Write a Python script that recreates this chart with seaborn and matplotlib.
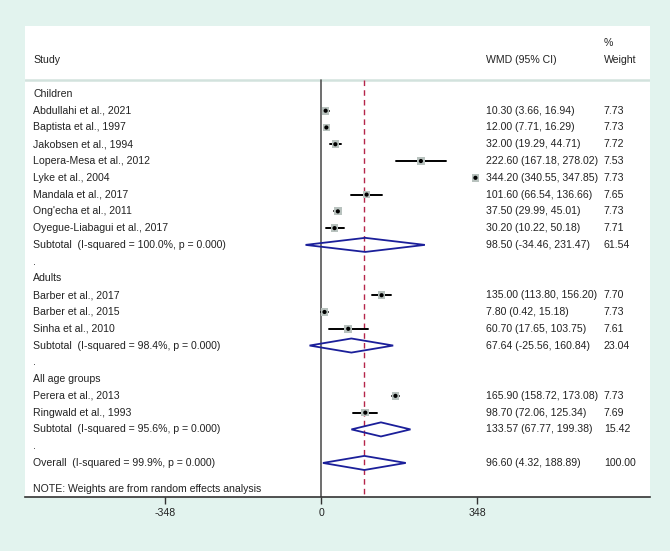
import pandas as pd
import matplotlib.pyplot as plt
import seaborn as sns
import numpy as np
from matplotlib.patches import Polygon

sns.set_theme(style="white")
plt.rcParams['font.family'] = ['Liberation Sans', 'DejaVu Sans']

#Study level data
groups = ['Children', 'Adults', 'All age groups']
group_of_study = ['Children'] * 8 + ['Adults'] * 3 + ['All age groups'] * 2
studies = ['Abdullahi et al., 2021', 'Baptista et al., 1997', 'Jakobsen et al., 1994',
           'Lopera-Mesa et al., 2012', 'Lyke et al., 2004', 'Mandala et al., 2017',
           "Ong'echa et al., 2011", 'Oyegue-Liabagui et al., 2017',
           'Barber et al., 2017', 'Barber et al., 2015', 'Sinha et al., 2010',
           'Perera et al., 2013', 'Ringwald et al., 1993']
wmd = [10.30, 12.00, 32.00, 222.60, 344.20, 101.60, 37.50, 30.20,
       135.00, 7.80, 60.70, 165.90, 98.70]
ci_low = [3.66, 7.71, 19.29, 167.18, 340.55, 66.54, 29.99, 10.22,
          113.80, 0.42, 17.65, 158.72, 72.06]
ci_high = [16.94, 16.29, 44.71, 278.02, 347.85, 136.66, 45.01, 50.18,
           156.20, 15.18, 103.75, 173.08, 125.34]
weights = [7.73, 7.73, 7.72, 7.53, 7.73, 7.65, 7.73, 7.71,
           7.70, 7.73, 7.61, 7.73, 7.69]

#Subtotals and overall
sub_labels = ['Subtotal  (I-squared = 100.0%, p = 0.000)',
              'Subtotal  (I-squared = 98.4%, p = 0.000)',
              'Subtotal  (I-squared = 95.6%, p = 0.000)']
sub_wmd = [98.50, 67.64, 133.57]
sub_low = [-34.46, -25.56, 67.77]
sub_high = [231.47, 160.84, 199.38]
sub_weight = [61.54, 23.04, 15.42]
overall_label = 'Overall  (I-squared = 99.9%, p = 0.000)'
overall = [96.60, 4.32, 188.89]
overall_weight = 100.00

xticks = [-348, 0, 348]

df = pd.DataFrame({'study': studies, 'group': group_of_study, 'wmd': wmd,
                   'lo': ci_low, 'hi': ci_high, 'weight': weights})

#Row layout
rows = []
row = 0
for g in groups:
    rows.append(('head', g, row)); row += 1
    for idx in df.index[df.group == g]:
        rows.append(('study', idx, row)); row += 1
    rows.append(('sub', groups.index(g), row)); row += 1
    rows.append(('dot', None, row)); row += 1
overall_row = row
df['row'] = [r[2] for r in rows if r[0] == 'study']

fig = plt.figure(figsize=(6.7, 5.51), dpi=100)
fig.patch.set_facecolor('#e2f3ee')
ax = fig.add_axes([25 / 670, 54 / 551, 625 / 670, 471 / 551])
ax.set_facecolor('white')

ax.set_xlim(-659.7, 733.2)
ax.set_ylim(24.03, -4.05)

txt_kw = dict(fontsize=7.6, color='#222222', va='center')
tr = ax.get_yaxis_transform()
x_study, x_wmd, x_wt = 0.0128, 0.7376, 0.926

#Header
ax.text(x_study, -2.03, 'Study', transform=tr, **txt_kw)
ax.text(x_wmd, -2.03, 'WMD (95% CI)', transform=tr, **txt_kw)
ax.text(x_wt, -3.04, '%', transform=tr, **txt_kw)
ax.text(x_wt, -2.03, 'Weight', transform=tr, **txt_kw)
ax.axhline(-0.83, color='#d2e2dd', lw=1.8)

#Reference lines
ax.plot([0, 0], [-0.83, 24.03], color='#555555', lw=1.2)
ax.plot([overall[0], overall[0]], [-0.83, 24.03], color='#b5254a', lw=1.0,
        ls=(0, (4, 3)))

#Study rows
for kind, key, r in rows:
    if kind == 'head':
        ax.text(x_study, r, key, transform=tr, **txt_kw)
    elif kind == 'dot':
        ax.text(x_study, r, '.', transform=tr, **txt_kw)
    elif kind == 'study':
        s = df.loc[key]
        ax.text(x_study, r, s.study, transform=tr, **txt_kw)
        ax.text(x_wmd, r, f'{s.wmd:.2f} ({s.lo:.2f}, {s.hi:.2f})', transform=tr, **txt_kw)
        ax.text(x_wt, r, f'{s.weight:.2f}', transform=tr, **txt_kw)
        ax.plot([s.lo, s.hi], [r, r], color='black', lw=1.4, zorder=3)
    else:
        i = key
        ax.text(x_study, r, sub_labels[i], transform=tr, **txt_kw)
        ax.text(x_wmd, r, f'{sub_wmd[i]:.2f} ({sub_low[i]:.2f}, {sub_high[i]:.2f})',
                transform=tr, **txt_kw)
        ax.text(x_wt, r, f'{sub_weight[i]:.2f}', transform=tr, **txt_kw)
        ax.add_patch(Polygon([[sub_low[i], r], [sub_wmd[i], r - 0.42],
                              [sub_high[i], r], [sub_wmd[i], r + 0.42]],
                             closed=True, fill=False, edgecolor='#1b1f9a', lw=1.3, zorder=4))

#Overall
ax.text(x_study, overall_row, overall_label, transform=tr, **txt_kw)
ax.text(x_wmd, overall_row, f'{overall[0]:.2f} ({overall[1]:.2f}, {overall[2]:.2f})',
        transform=tr, **txt_kw)
ax.text(x_wt, overall_row, f'{overall_weight:.2f}', transform=tr, **txt_kw)
ax.add_patch(Polygon([[overall[1], overall_row], [overall[0], overall_row - 0.42],
                      [overall[2], overall_row], [overall[0], overall_row + 0.42]],
                     closed=True, fill=False, edgecolor='#1b1f9a', lw=1.3, zorder=4))

ax.text(x_study, 23.55, 'NOTE: Weights are from random effects analysis', transform=tr, **txt_kw)

#Weight boxes and point estimates
sns.scatterplot(data=df, x='wmd', y='row', marker='s', s=df['weight'] * 4,
                color='#b8c2be', edgecolor='none', legend=False, ax=ax, zorder=4)
sns.scatterplot(data=df, x='wmd', y='row', marker='o', s=9,
                color='black', edgecolor='none', legend=False, ax=ax, zorder=5)

#Axis styling
ax.set_xlabel('')
ax.set_ylabel('')
ax.set_yticks([])
ax.set_xticks(xticks)
ax.set_xticklabels([str(t) for t in xticks], fontsize=7.6, color='#222222')
ax.tick_params(axis='x', direction='out', length=5, width=1, color='#333333', pad=3,
               bottom=True)
for side in ['top', 'left', 'right']:
    ax.spines[side].set_visible(False)
ax.spines['bottom'].set_color('#333333')
ax.spines['bottom'].set_linewidth(1.2)

plt.savefig('out.png', dpi=100, facecolor=fig.get_facecolor())
